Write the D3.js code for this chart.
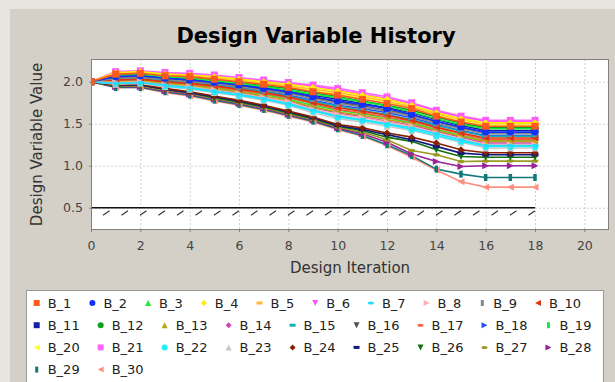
<!DOCTYPE html>
<html>
<head>
<meta charset="utf-8">
<script src="https://cdn.jsdelivr.net/npm/d3@7"></script>
<style>
  html, body { margin: 0; padding: 0; background: #e6e4df; }
  svg { display: block; font-family: "DejaVu Sans", sans-serif; }
</style>
</head>
<body>
<svg id="chart" width="615" height="382"></svg>
<script>
// design iterations on the x axis
const iterations = [0, 1, 2, 3, 4, 5, 6, 7, 8, 9, 10, 11, 12, 13, 14, 15, 16, 17, 18];

const seriesNames = ['B_1', 'B_2', 'B_3', 'B_4', 'B_5', 'B_6', 'B_7', 'B_8', 'B_9', 'B_10',
                     'B_11', 'B_12', 'B_13', 'B_14', 'B_15', 'B_16', 'B_17', 'B_18', 'B_19', 'B_20',
                     'B_21', 'B_22', 'B_23', 'B_24', 'B_25', 'B_26', 'B_27', 'B_28', 'B_29', 'B_30'];

// values, one array per design variable
const b01 = [2.00, 2.09, 2.10, 2.07, 2.06, 2.03, 2.00, 1.97, 1.93, 1.88, 1.84, 1.79, 1.74, 1.68, 1.59, 1.52, 1.47, 1.47, 1.47];
const b02 = [2.00, 2.06, 2.07, 2.04, 2.02, 1.99, 1.96, 1.92, 1.88, 1.82, 1.77, 1.73, 1.68, 1.61, 1.53, 1.46, 1.40, 1.40, 1.40];
const b03 = [2.00, 2.07, 2.08, 2.06, 2.04, 2.01, 1.98, 1.94, 1.90, 1.85, 1.81, 1.76, 1.71, 1.64, 1.56, 1.49, 1.44, 1.44, 1.44];
const b04 = [2.00, 2.11, 2.12, 2.09, 2.08, 2.06, 2.03, 2.00, 1.97, 1.93, 1.89, 1.84, 1.79, 1.72, 1.63, 1.56, 1.51, 1.51, 1.51];
const b05 = [2.00, 2.10, 2.11, 2.09, 2.07, 2.05, 2.02, 1.99, 1.95, 1.91, 1.87, 1.82, 1.77, 1.70, 1.62, 1.55, 1.50, 1.50, 1.50];
const b06 = [2.00, 2.11, 2.12, 2.10, 2.09, 2.07, 2.04, 2.01, 1.98, 1.95, 1.90, 1.85, 1.80, 1.74, 1.65, 1.58, 1.53, 1.53, 1.53];
const b07 = [2.00, 1.98, 1.99, 1.96, 1.93, 1.89, 1.85, 1.80, 1.74, 1.66, 1.59, 1.55, 1.50, 1.45, 1.38, 1.31, 1.24, 1.24, 1.24];
const b08 = [2.00, 1.99, 2.00, 1.96, 1.94, 1.90, 1.86, 1.81, 1.76, 1.67, 1.61, 1.57, 1.52, 1.47, 1.39, 1.32, 1.25, 1.25, 1.25];
const b09 = [2.00, 2.04, 2.05, 2.03, 2.00, 1.98, 1.94, 1.90, 1.86, 1.80, 1.74, 1.70, 1.65, 1.59, 1.51, 1.44, 1.38, 1.38, 1.38];
const b10 = [2.00, 2.02, 2.03, 2.00, 1.98, 1.95, 1.91, 1.87, 1.82, 1.75, 1.69, 1.65, 1.60, 1.54, 1.46, 1.39, 1.33, 1.33, 1.33];
const b11 = [2.00, 2.07, 2.08, 2.05, 2.03, 2.00, 1.97, 1.93, 1.89, 1.84, 1.79, 1.74, 1.69, 1.63, 1.55, 1.48, 1.42, 1.42, 1.42];
const b12 = [2.00, 2.08, 2.09, 2.06, 2.05, 2.02, 1.99, 1.95, 1.92, 1.87, 1.82, 1.77, 1.72, 1.66, 1.58, 1.51, 1.45, 1.45, 1.45];
const b13 = [2.00, 2.00, 2.01, 1.98, 1.95, 1.92, 1.88, 1.83, 1.78, 1.70, 1.64, 1.60, 1.55, 1.50, 1.42, 1.35, 1.29, 1.29, 1.29];
const b14 = [2.00, 2.00, 2.01, 1.97, 1.94, 1.91, 1.87, 1.82, 1.77, 1.69, 1.63, 1.58, 1.53, 1.48, 1.41, 1.34, 1.27, 1.27, 1.27];
const b15 = [2.00, 2.03, 2.04, 2.01, 1.99, 1.96, 1.92, 1.88, 1.83, 1.76, 1.71, 1.66, 1.61, 1.55, 1.48, 1.41, 1.35, 1.35, 1.35];
const b16 = [2.00, 2.05, 2.06, 2.03, 2.01, 1.98, 1.95, 1.91, 1.87, 1.81, 1.76, 1.71, 1.66, 1.60, 1.52, 1.45, 1.39, 1.39, 1.39];
const b17 = [2.00, 2.02, 2.03, 1.99, 1.97, 1.94, 1.90, 1.86, 1.81, 1.74, 1.67, 1.63, 1.58, 1.53, 1.45, 1.38, 1.31, 1.31, 1.31];
const b18 = [2.00, 2.04, 2.05, 2.02, 2.00, 1.97, 1.93, 1.89, 1.84, 1.78, 1.72, 1.68, 1.63, 1.57, 1.49, 1.42, 1.36, 1.36, 1.36];
const b19 = [2.00, 2.01, 2.02, 1.99, 1.96, 1.93, 1.89, 1.85, 1.79, 1.72, 1.66, 1.62, 1.57, 1.51, 1.43, 1.36, 1.30, 1.30, 1.30];
const b20 = [2.00, 2.09, 2.10, 2.08, 2.07, 2.04, 2.01, 1.98, 1.94, 1.90, 1.85, 1.81, 1.76, 1.69, 1.60, 1.53, 1.48, 1.48, 1.48];
const b21 = [2.00, 2.12, 2.13, 2.11, 2.10, 2.08, 2.05, 2.02, 1.99, 1.96, 1.92, 1.87, 1.82, 1.75, 1.66, 1.59, 1.54, 1.54, 1.54];
const b22 = [2.00, 1.98, 1.99, 1.95, 1.92, 1.88, 1.84, 1.79, 1.73, 1.65, 1.58, 1.54, 1.49, 1.43, 1.36, 1.29, 1.23, 1.23, 1.23];
const b23 = [2.00, 1.97, 1.98, 1.94, 1.91, 1.87, 1.83, 1.78, 1.72, 1.63, 1.56, 1.52, 1.47, 1.42, 1.35, 1.28, 1.21, 1.21, 1.21];
const b24 = [2.00, 1.96, 1.97, 1.92, 1.88, 1.83, 1.78, 1.72, 1.65, 1.58, 1.49, 1.45, 1.39, 1.34, 1.27, 1.19, 1.155, 1.155, 1.155];
const b25 = [2.00, 1.96, 1.96, 1.91, 1.87, 1.82, 1.77, 1.71, 1.64, 1.57, 1.48, 1.43, 1.37, 1.31, 1.23, 1.15, 1.13, 1.13, 1.13];
const b26 = [2.00, 1.95, 1.96, 1.91, 1.87, 1.81, 1.76, 1.70, 1.63, 1.56, 1.47, 1.42, 1.34, 1.29, 1.19, 1.11, 1.10, 1.10, 1.10];
const b27 = [2.00, 1.95, 1.95, 1.90, 1.86, 1.80, 1.75, 1.69, 1.62, 1.55, 1.46, 1.40, 1.31, 1.18, 1.13, 1.05, 1.055, 1.055, 1.055];
const b28 = [2.00, 1.94, 1.94, 1.89, 1.85, 1.79, 1.74, 1.68, 1.61, 1.54, 1.45, 1.38, 1.28, 1.14, 1.05, 0.99, 1.00, 1.00, 1.00];
const b29 = [2.00, 1.93, 1.93, 1.88, 1.84, 1.78, 1.73, 1.67, 1.60, 1.53, 1.44, 1.36, 1.25, 1.12, 0.96, 0.90, 0.86, 0.86, 0.86];
const b30 = [2.00, 1.93, 1.93, 1.87, 1.83, 1.77, 1.72, 1.66, 1.59, 1.52, 1.43, 1.35, 1.24, 1.10, 0.95, 0.81, 0.745, 0.745, 0.745];

const seriesValues = [b01, b02, b03, b04, b05, b06, b07, b08, b09, b10,
                      b11, b12, b13, b14, b15, b16, b17, b18, b19, b20,
                      b21, b22, b23, b24, b25, b26, b27, b28, b29, b30];

// lower bound constraint
const constraintValue = 0.5;
const constraintStart = 0;
const constraintEnd = 18;

const xTicks = [0, 2, 4, 6, 8, 10, 12, 14, 16, 18, 20];
const yTicks = [0.5, 1.0, 1.5, 2.0];

const colors = ['#ff5a1e', '#1030ff', '#1ee83c', '#ffee00', '#ffbb33', '#ff55ff', '#22ddff', '#ffb0b0', '#888888', '#dd3311',
                '#1020aa', '#10a020', '#b8a810', '#cc44bb', '#10b0b0', '#505050', '#ff6040', '#2050ff', '#10ee40', '#ffff30',
                '#ff66ff', '#20eeff', '#c8c8c8', '#882000', '#101880', '#107010', '#999920', '#992299', '#107878', '#ff9080'];
const shapeKinds = ['square', 'circle', 'up', 'diamond', 'hrect', 'down', 'ellipse', 'right', 'vrect', 'left'];

function shapePath(kind, s) {
  const h = s / 2, q = s / 4;
  switch (kind) {
    case 'square': return `M${-h},${-h}h${s}v${s}h${-s}Z`;
    case 'circle': return `M${-h},0a${h},${h} 0 1,0 ${s},0a${h},${h} 0 1,0 ${-s},0Z`;
    case 'up': return `M0,${-h}L${h},${h}L${-h},${h}Z`;
    case 'diamond': return `M0,${-h}L${h},0L0,${h}L${-h},0Z`;
    case 'hrect': return `M${-h},${-q}h${s}v${h}h${-s}Z`;
    case 'down': return `M${-h},${-h}L${h},${-h}L0,${h}Z`;
    case 'ellipse': return `M${-h},0a${h},${q} 0 1,0 ${s},0a${h},${q} 0 1,0 ${-s},0Z`;
    case 'right': return `M${-h},${-h}L${h},0L${-h},${h}Z`;
    case 'vrect': return `M${-q},${-h}h${h}v${s}h${-h}Z`;
    default: return `M${h},${-h}L${-h},0L${h},${h}Z`;
  }
}

const svg = d3.select('#chart');

svg.append('rect')
    .attr('x', 10).attr('y', 9)
    .attr('width', 605).attr('height', 373)
    .attr('fill', '#d4d0c8');

var plot = { left: 91, top: 59, right: 609, bottom: 230 };

var xScale = d3.scaleLinear([0, 21], [plot.left, plot.right]),
    yScale = d3.scaleLinear([0.235, 2.27], [plot.bottom, plot.top]);

svg.append('text')
    .attr('x', 316).attr('y', 42.5)
    .attr('text-anchor', 'middle')
    .style('font-size', '21px').style('font-weight', 'bold')
    .attr('fill', '#000')
    .text('Design Variable History');

svg.append('rect')
    .attr('x', plot.left).attr('y', plot.top)
    .attr('width', plot.right - plot.left).attr('height', plot.bottom - plot.top)
    .attr('fill', '#fff');

svg.append('clipPath').attr('id', 'clip')
  .append('rect')
    .attr('x', plot.left).attr('y', plot.top)
    .attr('width', plot.right - plot.left).attr('height', plot.bottom - plot.top);

// grid
var grid = svg.append('g').attr('stroke', '#cfcfcf').attr('stroke-dasharray', '2,2');
grid.selectAll('.gx').data(xTicks.slice(1)).enter().append('line')
    .attr('x1', d => xScale(d) + 0.5).attr('x2', d => xScale(d) + 0.5)
    .attr('y1', plot.top).attr('y2', plot.bottom);
grid.selectAll('.gy').data(yTicks).enter().append('line')
    .attr('y1', d => yScale(d) + 0.5).attr('y2', d => yScale(d) + 0.5)
    .attr('x1', plot.left).attr('x2', plot.right);

// constraint line with hatching below
var hatchStep = 0.75;
var hatchAt = d3.range(constraintStart + hatchStep, constraintEnd + 1e-6, hatchStep);
var cons = svg.append('g');
cons.append('line')
    .attr('x1', xScale(constraintStart)).attr('x2', xScale(constraintEnd))
    .attr('y1', yScale(constraintValue)).attr('y2', yScale(constraintValue))
    .attr('stroke', '#111').attr('stroke-width', 1.6);
cons.selectAll('.hatch').data(hatchAt).enter().append('line')
    .attr('x1', d => xScale(d) - 6.5).attr('y1', yScale(constraintValue) + 7.5)
    .attr('x2', d => xScale(d)).attr('y2', yScale(constraintValue) + 3)
    .attr('stroke', '#333').attr('stroke-width', 1.1);

// series: lines first, then markers, last series underneath
var line = d3.line()
    .x((d, i) => xScale(iterations[i]))
    .y(d => yScale(d));

var order = d3.range(seriesValues.length).reverse();
var lines = svg.append('g').attr('clip-path', 'url(#clip)');
order.forEach(function(s) {
  lines.append('path')
      .attr('d', line(seriesValues[s]))
      .attr('fill', 'none')
      .attr('stroke', colors[s])
      .attr('stroke-width', 1.6);
});
var marks = svg.append('g').attr('clip-path', 'url(#clip)');
order.forEach(function(s) {
  marks.selectAll(null)
      .data(seriesValues[s])
      .enter()
      .append('path')
      .attr('transform', (d, i) => `translate(${xScale(iterations[i])},${yScale(d)})`)
      .attr('d', shapePath(shapeKinds[s % 10], 7))
      .attr('fill', colors[s]);
});

svg.append('rect')
    .attr('x', plot.left + 0.5).attr('y', plot.top + 0.5)
    .attr('width', plot.right - plot.left - 1).attr('height', plot.bottom - plot.top - 1)
    .attr('fill', 'none').attr('stroke', '#808080');

// axes
var xAxis = svg.append('g')
    .attr('transform', `translate(0,${plot.bottom})`)
    .call(d3.axisBottom(xScale).tickValues(xTicks).tickSize(2).tickPadding(9));
var yAxis = svg.append('g')
    .attr('transform', `translate(${plot.left},0)`)
    .call(d3.axisLeft(yScale).tickValues(yTicks).tickFormat(d3.format('.1f')).tickSize(2).tickPadding(6));
[xAxis, yAxis].forEach(function(a) {
  a.select('.domain').remove();
  a.selectAll('line').attr('stroke', '#808080');
  a.selectAll('text').attr('fill', '#444').style('font-size', '12.5px')
      .style('font-family', '"DejaVu Sans", sans-serif');
});

svg.append('text')
    .attr('x', (plot.left + plot.right) / 2).attr('y', 273)
    .attr('text-anchor', 'middle')
    .style('font-size', '15px').attr('fill', '#333')
    .text('Design Iteration');
svg.append('text')
    .attr('transform', `translate(42,${(plot.top + plot.bottom) / 2}) rotate(-90)`)
    .attr('text-anchor', 'middle')
    .style('font-size', '15px').attr('fill', '#333')
    .text('Design Variable Value');

// legend
var legendBox = { x: 26, y: 290, right: 603 };
svg.append('rect')
    .attr('x', legendBox.x + 0.5).attr('y', legendBox.y + 0.5)
    .attr('width', legendBox.right - legendBox.x).attr('height', 110)
    .attr('fill', '#fff').attr('stroke', '#999');

var legend = svg.append('g');
var lx = 36.7, row = 0;
seriesNames.forEach(function(name, s) {
  var item = legend.append('g');
  var label = item.append('text')
      .attr('x', 11).attr('dy', '0.35em')
      .style('font-size', '13px').attr('fill', '#222')
      .text(name);
  var w = label.node().getComputedTextLength();
  if (lx + 11 + w > 600) { lx = 36.7; row += 1; }
  item.attr('transform', `translate(${lx},${303 + row * 22.2})`);
  item.append('path')
      .attr('d', shapePath(shapeKinds[s % 10], 6))
      .attr('fill', colors[s]);
  lx += 11 + w + 21;
});
</script>
</body>
</html>
